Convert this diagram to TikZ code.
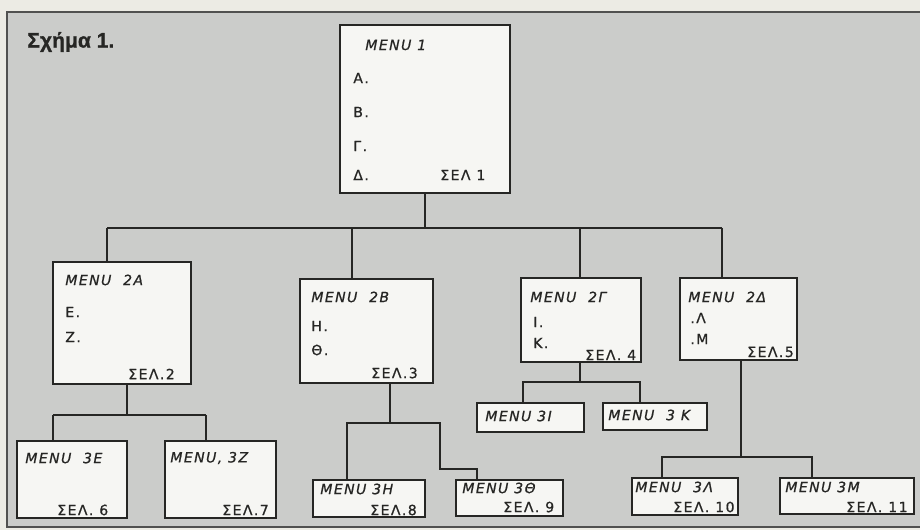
\documentclass[tikz,border=0pt]{standalone}
\usepackage{fontspec}
\setmainfont{DejaVu Sans}
\newfontfamily\hand[LetterSpace=10,FakeBold=0.8]{DejaVu Sans}
\newfontfamily\titlefont[FakeBold=1]{Liberation Sans}
\definecolor{paper}{RGB}{236,235,228}
\definecolor{plate}{RGB}{203,204,202}
\definecolor{card}{RGB}{246,246,243}
\definecolor{ink}{RGB}{38,38,36}

\begin{document}
\begin{tikzpicture}[x=0.02cm,y=-0.02cm,
          box/.style 2 args={draw=ink,fill=card,line width=1.1pt,inner sep=0pt,
                      minimum width=#1*0.02cm,minimum height=#2*0.02cm},
          txt/.style={font=\hand\fontsize{8}{9}\selectfont,text=ink,inner sep=0pt,anchor=west},
          hd/.style={txt,font=\hand\itshape\fontsize{8}{9}\selectfont},
          wire/.style={draw=ink,line width=1.1pt}]
        \useasboundingbox (0,0) rectangle (920,530);
        \fill[paper] (0,0) rectangle (920,530);
        \draw[ink!80,fill=plate,line width=0.8pt] (7,12) rectangle (926,527);
        \node[font=\titlefont\bfseries\fontsize{12}{14}\selectfont,text=ink,anchor=west,inner sep=0pt](title) at (27,42){Σχήμα 1.};

        % level 1
        \node[box={170}{168}](m1) at (425,109){};
        \node[hd](m1t) at (365,45){MENU 1};
        \node[txt](m1a) at (353,78){Α.};
        \node[txt](m1b) at (353,112){Β.};
        \node[txt](m1c) at (353,146){Γ.};
        \node[txt](m1d) at (353,175){Δ.};
        \node[txt](m1p) at (440,175){ΣΕΛ 1};

        % level 2
        \node[box={138}{122}](m2a) at (122,323){};
        \node[hd](m2at) at (65,280){MENU\ \ 2Α};
        \node[txt](m2a1) at (65,312){Ε.};
        \node[txt](m2a2) at (65,337){Ζ.};
        \node[txt](m2ap) at (128,374){ΣΕΛ.2};

        \node[box={133}{104}](m2b) at (366.5,331){};
        \node[hd](m2bt) at (311,297){MENU\ \ 2Β};
        \node[txt](m2b1) at (311,326){Η.};
        \node[txt](m2b2) at (311,350){Θ.};
        \node[txt](m2bp) at (371,373){ΣΕΛ.3};

        \node[box={120}{84}](m2g) at (581,320){};
        \node[hd](m2gt) at (530,297){MENU\ \ 2Γ};
        \node[txt](m2g1) at (533,322){Ι.};
        \node[txt](m2g2) at (533,343){Κ.};
        \node[txt](m2gp) at (585,355){ΣΕΛ. 4};

        \node[box={117}{82}](m2d) at (738.5,319){};
        \node[hd](m2dt) at (688,297){MENU\ \ 2Δ};
        \node[txt](m2d1) at (690,318){.Λ};
        \node[txt](m2d2) at (690,339){.Μ};
        \node[txt](m2dp) at (747,352){ΣΕΛ.5};

        % level 3
        \node[box={110}{77}](m3e) at (72,479.5){};
        \node[hd](m3et) at (25,458){MENU\ \ 3Ε};
        \node[txt](m3ep) at (57,510){ΣΕΛ. 6};

        \node[box={111}{77}](m3z) at (220.5,479.5){};
        \node[hd](m3zt) at (170,458){MENU, 3Ζ};
        \node[txt](m3zp) at (222,510){ΣΕΛ.7};

        \node[box={112}{37}](m3h) at (369,498.5){};
        \node[hd](m3ht) at (320,489){MENU 3Η};
        \node[txt](m3hp) at (370,510){ΣΕΛ.8};

        \node[box={107}{36}](m3th) at (509.5,498){};
        \node[hd](m3tht) at (462,488){MENU 3Θ};
        \node[txt](m3thp) at (503,507){ΣΕΛ. 9};

        \node[box={107}{29}](m3i) at (530.5,417.5){};
        \node[hd](m3it) at (485,416){MENU 3Ι};

        \node[box={104}{27}](m3k) at (655,416.5){};
        \node[hd](m3kt) at (608,415){MENU\ \ 3 Κ};

        \node[box={106}{37}](m3l) at (685,496.5){};
        \node[hd](m3lt) at (635,487){MENU\ \ 3Λ};
        \node[txt](m3lp) at (673,507){ΣΕΛ. 10};

        \node[box={134}{36}](m3m) at (847,496){};
        \node[hd](m3mt) at (785,487){MENU 3Μ};
        \node[txt](m3mp) at (846,507){ΣΕΛ. 11};

        % connectors
        \coordinate (j1) at (425,228);
        \coordinate (d2a) at (107,228);
        \coordinate (d2b) at (352,228);
        \coordinate (d2g) at (580,228);
        \coordinate (d2d) at (722,228);
        \draw[wire](m1.south)--(j1);
        \draw[wire](d2a)--(d2d);
        \draw[wire](d2a)--(d2a |- m2a.north);
        \draw[wire](d2b)--(d2b |- m2b.north);
        \draw[wire](d2g)--(d2g |- m2g.north);
        \draw[wire](d2d)--(d2d |- m2d.north);

        \coordinate (j2a) at (127,415);
        \coordinate (d3e) at (53,415);
        \coordinate (d3z) at (206,415);
        \draw[wire](j2a |- m2a.south)--(j2a);
        \draw[wire](d3e)--(d3z);
        \draw[wire](d3e)--(d3e |- m3e.north);
        \draw[wire](d3z)--(d3z |- m3z.north);

        \coordinate (j2b) at (390,423);
        \coordinate (d3h) at (347,423);
        \coordinate (d3th) at (440,423);
        \coordinate (k3th) at (477,469);
        \draw[wire](j2b |- m2b.south)--(j2b);
        \draw[wire](d3h |- m3h.north)--(d3h)--(d3th)|-(k3th)--(k3th |- m3th.north);

        \coordinate (j2g) at (580,382);
        \coordinate (d3i) at (523,382);
        \coordinate (d3k) at (640,382);
        \draw[wire](j2g |- m2g.south)--(j2g);
        \draw[wire](d3i |- m3i.north)--(d3i)--(d3k)--(d3k |- m3k.north);

        \coordinate (j2d) at (741,457);
        \coordinate (d3l) at (662,457);
        \coordinate (d3m) at (812,457);
        \draw[wire](j2d |- m2d.south)--(j2d);
        \draw[wire](d3l |- m3l.north)--(d3l)--(d3m)--(d3m |- m3m.north);
      \end{tikzpicture}
\end{document}
